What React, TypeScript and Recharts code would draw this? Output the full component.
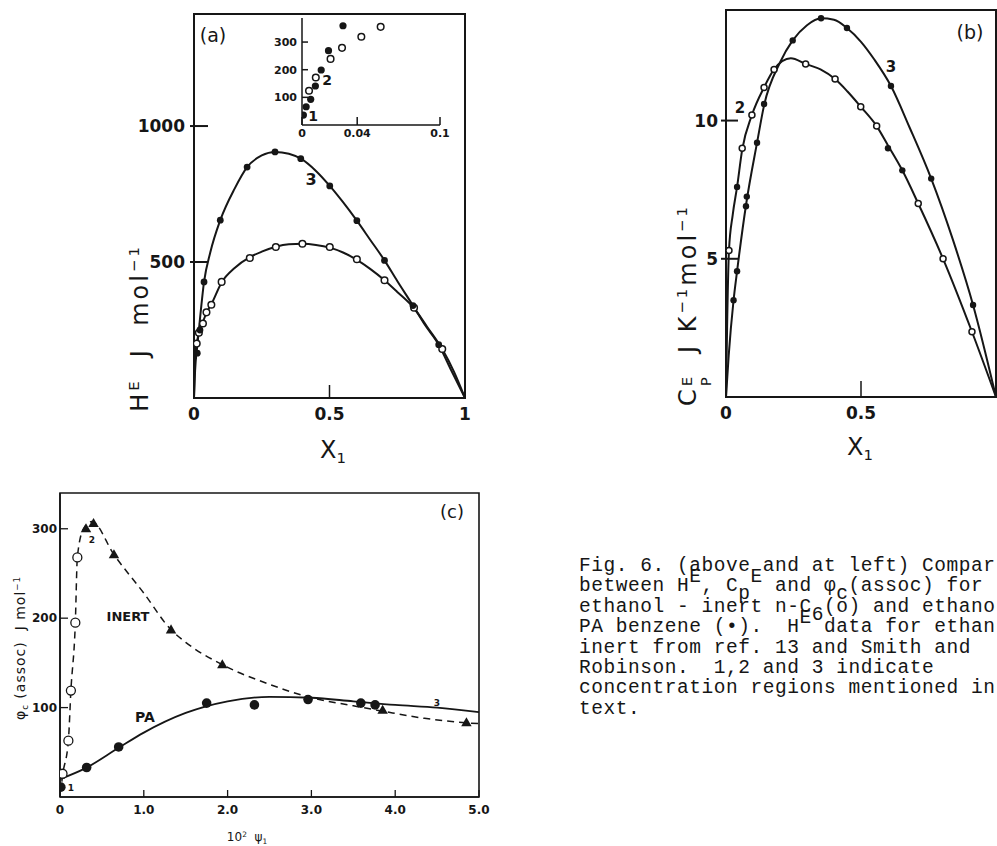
import React from "react";
import { ComposedChart, Line, Scatter, XAxis, YAxis, ReferenceArea } from "recharts";

const INK = "#161616";
const SANS = "'DejaVu Sans', Arial, sans-serif";
const MONO = "'Liberation Mono', 'Courier New', monospace";

type P = [number, number];
const pts = (a: P[]) => a.map(([x, y]) => ({ x, y }));

// ---- (a) H^E vs x1 ----
const aTicksX = [0, 0.5, 1];
const aTicksY = [500, 1000];
const aPaPts: P[] = [
  [0.012, 165], [0.022, 250], [0.037, 427], [0.097, 654], [0.196, 849], [0.299, 905],
  [0.394, 880], [0.501, 780], [0.601, 652], [0.703, 506], [0.808, 340], [0.903, 196],
];
const aInertPts: P[] = [
  [0.01, 200], [0.018, 240], [0.033, 274], [0.046, 315], [0.064, 343], [0.102, 427],
  [0.206, 515], [0.302, 555], [0.4, 567], [0.501, 555], [0.601, 510], [0.703, 433],
  [0.812, 332], [0.916, 180],
];
const aPaCurve: P[] = [
  [0, 0], [0.004, 100], [0.012, 190], [0.022, 290], [0.037, 427], [0.06, 535], [0.097, 654],
  [0.15, 770], [0.196, 849], [0.25, 892], [0.299, 905], [0.35, 898], [0.394, 880], [0.45, 835],
  [0.501, 780], [0.55, 720], [0.601, 652], [0.65, 582], [0.703, 506], [0.75, 430], [0.808, 340],
  [0.85, 272], [0.903, 196], [0.95, 100], [1, 0],
];
const aInertCurve: P[] = [
  [0, 0], [0.003, 140], [0.01, 200], [0.02, 245], [0.033, 280], [0.046, 313], [0.064, 345],
  [0.102, 425], [0.15, 478], [0.206, 518], [0.25, 538], [0.302, 556], [0.35, 565], [0.4, 567],
  [0.45, 563], [0.501, 553], [0.55, 535], [0.601, 508], [0.65, 475], [0.703, 433], [0.75, 390],
  [0.812, 330], [0.86, 262], [0.916, 180], [0.96, 95], [1, 0],
];

// inset of (a)
const insTicksX = [0, 0.04, 0.1];
const insTicksY = [100, 200, 300];
const insPaPts: P[] = [
  [0.001, 36], [0.003, 66], [0.0063, 93], [0.0097, 141], [0.0139, 199], [0.0192, 269], [0.0297, 359],
];
const insInertPts: P[] = [
  [0.0051, 124], [0.01, 172], [0.0207, 239], [0.029, 279], [0.043, 319], [0.057, 355],
];

// ---- (b) Cp^E vs x1 ----
const bTicksX = [0, 0.5];
const bTicksY = [5, 10];
const bPaPts: P[] = [
  [0.028, 3.5], [0.041, 4.55], [0.074, 6.9], [0.077, 7.25], [0.115, 9.2], [0.141, 10.6],
  [0.247, 12.9], [0.352, 13.7], [0.448, 13.35], [0.611, 11.25], [0.76, 7.9], [0.915, 3.33],
];
const bInertPts: P[] = [
  [0.011, 5.3], [0.06, 9.0], [0.096, 10.2], [0.141, 11.2], [0.178, 11.85], [0.295, 12.05],
  [0.404, 11.5], [0.499, 10.5], [0.558, 9.8], [0.712, 7.0], [0.804, 5.0], [0.911, 2.36],
];
const bInertSolid: P[] = [[0.041, 7.6], [0.6, 9.0], [0.653, 8.2]];
const bPaCurve: P[] = [
  [0, 0], [0.01, 1.5], [0.028, 3.5], [0.041, 4.55], [0.075, 7.0], [0.115, 9.2], [0.141, 10.55],
  [0.2, 12.1], [0.247, 12.9], [0.3, 13.45], [0.352, 13.7], [0.4, 13.65], [0.448, 13.35],
  [0.5, 12.85], [0.55, 12.2], [0.611, 11.25], [0.68, 9.75], [0.76, 7.9], [0.84, 5.7],
  [0.915, 3.33], [1, 0],
];
const bInertCurve: P[] = [
  [0, 0], [0.004, 2.5], [0.011, 5.3], [0.025, 6.6], [0.041, 7.6], [0.06, 8.95], [0.096, 10.2],
  [0.141, 11.2], [0.178, 11.85], [0.24, 12.25], [0.295, 12.05], [0.35, 11.85], [0.404, 11.5],
  [0.45, 11.05], [0.499, 10.5], [0.558, 9.8], [0.6, 9.1], [0.653, 8.2], [0.712, 7.0],
  [0.804, 5.0], [0.911, 2.36], [1, 0],
];

// ---- (c) phi_c(assoc) vs 10^2 psi1 ----
const cTicksX = [0, 1, 2, 3, 4, 5];
const cTicksY = [100, 200, 300];
const cOpenPts: P[] = [[0.03, 26], [0.1, 63], [0.13, 119], [0.183, 195], [0.207, 268]];
const cTriPts: P[] = [
  [0.31, 300], [0.4, 306], [0.644, 271], [1.325, 187], [1.937, 148], [3.85, 97], [4.85, 83],
];
const cPaPts: P[] = [
  [0.01, 11], [0.318, 33], [0.7, 56], [1.75, 105], [2.32, 103], [2.96, 109], [3.59, 105], [3.76, 103],
];
const cPaCurve: P[] = [
  [0, 20], [0.3, 32], [0.7, 55], [1.0, 72], [1.5, 94], [2.0, 107], [2.5, 112], [3.0, 111],
  [3.5, 107], [4.0, 103], [4.5, 100], [5.0, 95],
];
const cInertCurve: P[] = [
  [0, 4], [0.012, 10], [0.032, 25], [0.1, 63], [0.13, 119], [0.183, 195], [0.207, 268],
  [0.28, 300], [0.38, 308], [0.644, 271], [1.0, 228], [1.325, 187], [1.5, 173], [1.937, 148],
  [2.5, 126], [3.0, 111], [3.5, 102], [3.85, 96], [4.35, 88], [4.85, 83], [5.0, 82],
];

// caption as visible in the figure (cut at the right edge); ^x raised, _x lowered
const captionLines = [
  "Fig. 6. (above and at left) Compar",
  "between H^E, C_p^E and φ_c(assoc) for",
  "ethanol - inert n-C_6(o) and ethano",
  "PA benzene (•).  H^E data for ethan",
  "inert from ref. 13 and Smith and",
  "Robinson.  1,2 and 3 indicate",
  "concentration regions mentioned in",
  "text.",
];

// ---- helpers ----
const dot = (r: number, filled: boolean, sw = 1.5) => (p: any) => (
  <circle cx={p.cx} cy={p.cy} r={r} fill={filled ? INK : "#fff"} stroke={INK} strokeWidth={filled ? 0 : sw} />
);
const tri = (s: number) => (p: any) => (
  <polygon
    points={`${p.cx},${p.cy - s} ${p.cx - s * 0.95},${p.cy + s * 0.65} ${p.cx + s * 0.95},${p.cy + s * 0.65}`}
    fill={INK}
  />
);

const leftTick = (inLen: number, outLen: number, gap: number, fs: number, sw: number, fmt: (v: number) => string) =>
  (p: any) => (
    <g>
      <line x1={p.x - outLen} x2={p.x + inLen} y1={p.y} y2={p.y} stroke={INK} strokeWidth={sw} />
      <text x={p.x - gap} y={p.y} dy="0.36em" textAnchor="end" fontFamily={SANS} fontWeight="bold" fontSize={fs} fill={INK}>
        {fmt(p.payload.value)}
      </text>
    </g>
  );
const bottomTick = (inLen: number, gap: number, fs: number, sw: number, fmt: (v: number) => string) =>
  (p: any) => (
    <g>
      <line x1={p.x} x2={p.x} y1={p.y} y2={p.y - inLen} stroke={INK} strokeWidth={sw} />
      <text x={p.x} y={p.y + gap} dy="0.72em" textAnchor="middle" fontFamily={SANS} fontWeight="bold" fontSize={fs} fill={INK}>
        {fmt(p.payload.value)}
      </text>
    </g>
  );

const Txt = ({ x, y, size, weight = "normal", rotate = false, family = SANS, spacing = 0, children }: any) => (
  <div
    style={{
      position: "absolute",
      left: x,
      top: y,
      transform: `translate(-50%, -50%)${rotate ? " rotate(-90deg)" : ""}`,
      fontSize: size,
      fontFamily: family,
      fontWeight: weight,
      letterSpacing: spacing,
      whiteSpace: "pre",
      lineHeight: 1,
      color: INK,
    }}
  >
    {children}
  </div>
);
const Sup = ({ children }: any) => <span style={{ fontSize: "0.62em", position: "relative", top: "-0.6em" }}>{children}</span>;
const Sub = ({ children }: any) => <span style={{ fontSize: "0.62em", position: "relative", top: "0.35em" }}>{children}</span>;

function CaptionLine({ text }: { text: string }) {
  const out: React.ReactNode[] = [];
  for (let i = 0; i < text.length; i++) {
    const c = text[i];
    if ((c === "^" || c === "_") && i + 1 < text.length) {
      out.push(
        <span key={i} style={{ position: "relative", top: c === "^" ? -9 : 8 }}>
          {text[i + 1]}
        </span>
      );
      i++;
    } else out.push(c);
  }
  return <div style={{ height: 20.4 }}>{out}</div>;
}

const line = (data: P[], dash?: string, sw = 2) => (
  <Line
    data={pts(data)}
    dataKey="y"
    type="monotone"
    dot={false}
    stroke={INK}
    strokeWidth={sw}
    strokeDasharray={dash}
    isAnimationActive={false}
    activeDot={false}
  />
);

const axisStyle = (sw: number) => ({ stroke: INK, strokeWidth: sw });
const fmt1 = (v: number) => (v === 0 ? "0" : v.toFixed(1));
const fmtPlain = (v: number) => String(v);

function PanelA() {
  return (
    <>
      <div style={{ position: "absolute", left: 0, top: 0 }}>
        <ComposedChart width={520} height={440} margin={{ top: 14, right: 55, bottom: 12, left: 134 }}>
          <XAxis dataKey="x" type="number" domain={[0, 1]} ticks={aTicksX} interval={0} allowDataOverflow height={30}
            tickSize={0} tickMargin={0} tickLine={false} axisLine={axisStyle(2)} tick={bottomTick(13, 10, 17, 1.5, fmtPlain)} />
          <YAxis dataKey="y" type="number" domain={[0, 1412]} ticks={aTicksY} interval={0} allowDataOverflow width={60}
            tickSize={0} tickMargin={0} tickLine={false} axisLine={axisStyle(2)} tick={leftTick(14, 4, 9, 17, 2, fmtPlain)} />
          <ReferenceArea x1={0} x2={1} y1={0} y2={1412} fill="none" stroke={INK} strokeWidth={2} />
          {line(aPaCurve)}
          {line(aInertCurve)}
          <Scatter data={pts(aInertPts)} shape={dot(3.3, false)} isAnimationActive={false} />
          <Scatter data={pts(aPaPts)} shape={dot(3.4, true)} isAnimationActive={false} />
        </ComposedChart>
      </div>
      <div style={{ position: "absolute", left: 250, top: 0 }}>
        <ComposedChart width={200} height={150} margin={{ top: 18, right: 10, bottom: 5, left: 0 }}>
          <XAxis dataKey="x" type="number" domain={[0, 0.1]} ticks={insTicksX} interval={0} allowDataOverflow height={20}
            tickSize={0} tickMargin={0} tickLine={false} axisLine={axisStyle(1.5)} tick={bottomTick(8, 4, 11, 1.5, fmtPlain)} />
          <YAxis dataKey="y" type="number" domain={[0, 387]} ticks={insTicksY} interval={0} allowDataOverflow width={52}
            tickSize={0} tickMargin={0} tickLine={false} axisLine={axisStyle(1.5)} tick={leftTick(6, 0, 5, 11, 1.5, fmtPlain)} />
          <Scatter data={pts(insInertPts)} shape={dot(3.3, false)} isAnimationActive={false} />
          <Scatter data={pts(insPaPts)} shape={dot(3.6, true)} isAnimationActive={false} />
        </ComposedChart>
      </div>
      <Txt x={213} y={35} size={19}>(a)</Txt>
      <Txt x={311} y={180} size={16} weight="bold">3</Txt>
      <Txt x={313} y={116} size={14} weight="bold">1</Txt>
      <Txt x={327} y={80} size={14} weight="bold">2</Txt>
      <Txt x={333} y={450} size={24}>X<Sub>1</Sub></Txt>
      <Txt x={140} y={328} size={24} spacing={3} rotate>
        H<Sup>E</Sup>  J  mol<Sup>−1</Sup>
      </Txt>
    </>
  );
}

function PanelB() {
  return (
    <>
      <div style={{ position: "absolute", left: 620, top: 0 }}>
        <ComposedChart width={420} height={480} margin={{ top: 10, right: 44, bottom: 43, left: 46 }}>
          <XAxis dataKey="x" type="number" domain={[0, 1]} ticks={bTicksX} interval={0} allowDataOverflow height={40}
            tickSize={0} tickMargin={0} tickLine={false} axisLine={axisStyle(2)} tick={bottomTick(16, 10, 17, 1.5, fmtPlain)} />
          <YAxis dataKey="y" type="number" domain={[0, 14]} ticks={bTicksY} interval={0} allowDataOverflow width={60}
            tickSize={0} tickMargin={0} tickLine={false} axisLine={axisStyle(2)} tick={leftTick(12, 5, 8, 17, 2, fmtPlain)} />
          <ReferenceArea x1={0} x2={1} y1={0} y2={14} fill="none" stroke={INK} strokeWidth={2} />
          {line(bPaCurve)}
          {line(bInertCurve)}
          <Scatter data={pts(bInertPts)} shape={dot(3, false)} isAnimationActive={false} />
          <Scatter data={pts(bInertSolid)} shape={dot(3.2, true)} isAnimationActive={false} />
          <Scatter data={pts(bPaPts)} shape={dot(3.2, true)} isAnimationActive={false} />
        </ComposedChart>
      </div>
      <Txt x={970} y={32} size={19}>(b)</Txt>
      <Txt x={891} y={67} size={15} weight="bold">3</Txt>
      <Txt x={740} y={108} size={15} weight="bold">2</Txt>
      <Txt x={860} y={447} size={24}>X<Sub>1</Sub></Txt>
      <Txt x={688} y={305} size={24} spacing={3} rotate>
        C<span style={{ display: "inline-block", position: "relative", fontSize: "0.62em", width: "0.8em" }}>
          <span style={{ position: "absolute", left: 0, top: "-1.1em" }}>E</span>
          <span style={{ position: "absolute", left: 0, top: "0.2em" }}>P</span>
        </span>{"  "}
        J K<Sup>−1</Sup>mol<Sup>−1</Sup>
      </Txt>
    </>
  );
}

function PanelC() {
  return (
    <>
      <div style={{ position: "absolute", left: 0, top: 440 }}>
        <ComposedChart width={530} height={406} margin={{ top: 53, right: 51, bottom: 19, left: 0 }}>
          <XAxis dataKey="x" type="number" domain={[0, 5]} ticks={cTicksX} interval={0} allowDataOverflow height={30}
            tickSize={0} tickMargin={0} tickLine={false} axisLine={axisStyle(1.6)} tick={bottomTick(7, 8, 12, 1.3, fmt1)} />
          <YAxis dataKey="y" type="number" domain={[0, 340]} ticks={cTicksY} interval={0} allowDataOverflow width={60}
            tickSize={0} tickMargin={0} tickLine={false} axisLine={axisStyle(1.6)} tick={leftTick(8, 0, 3, 12, 1.3, fmtPlain)} />
          <ReferenceArea x1={0} x2={5} y1={0} y2={340} fill="none" stroke={INK} strokeWidth={1.6} />
          {line(cInertCurve, "7 5", 1.5)}
          {line(cPaCurve, undefined, 1.8)}
          <Scatter data={pts(cOpenPts)} shape={dot(4.5, false, 1.3)} isAnimationActive={false} />
          <Scatter data={pts(cTriPts)} shape={tri(5.5)} isAnimationActive={false} />
          <Scatter data={pts(cPaPts)} shape={dot(4.8, true)} isAnimationActive={false} />
        </ComposedChart>
      </div>
      <Txt x={452} y={512} size={18}>(c)</Txt>
      <Txt x={128} y={616} size={13} weight="bold">INERT</Txt>
      <Txt x={145} y={717} size={14} weight="bold">PA</Txt>
      <Txt x={92} y={540} size={9} weight="bold">2</Txt>
      <Txt x={71} y={788} size={9} weight="bold">1</Txt>
      <Txt x={437} y={703} size={9} weight="bold">3</Txt>
      <Txt x={247} y={837} size={12}>
        10<Sup>2</Sup>  ψ<Sub>1</Sub>
      </Txt>
      <Txt x={20} y={648} size={14} spacing={1} rotate>
        φ<Sub>c</Sub> (assoc)  J mol<Sup>−1</Sup>
      </Txt>
    </>
  );
}

export default function App() {
  return (
    <div style={{ position: "absolute", left: 0, top: 0, width: 997, height: 846, overflow: "hidden", background: "#fff" }}>
      <PanelA />
      <PanelB />
      <PanelC />
      <div
        style={{
          position: "absolute",
          left: 579,
          top: 556,
          fontFamily: MONO,
          fontSize: 19.5,
          letterSpacing: 0.54,
          lineHeight: "20.4px",
          whiteSpace: "pre",
          color: INK,
        }}
      >
        {captionLines.map((t, i) => (
          <CaptionLine key={i} text={t} />
        ))}
      </div>
    </div>
  );
}
